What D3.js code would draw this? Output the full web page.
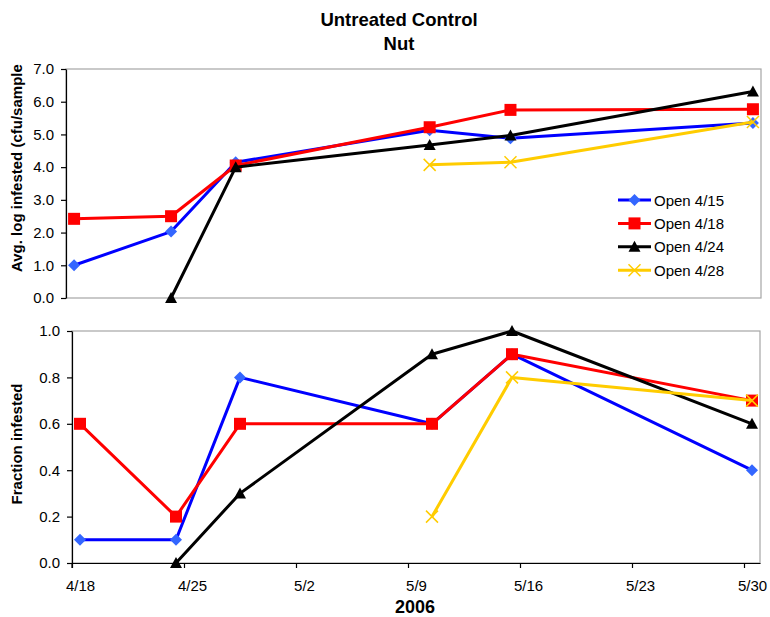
<!DOCTYPE html>
<html>
<head>
<meta charset="utf-8">
<script src="https://cdn.jsdelivr.net/npm/d3@7"></script>
<style>
  body { margin: 0; background: #fff; }
  svg { display: block; font-family: "Liberation Sans", Arial, sans-serif; }
</style>
</head>
<body>
<script>
// sample dates (2006) and series
const dates = ['2006-04-18', '2006-04-24', '2006-04-28', '2006-05-10', '2006-05-15', '2006-05-30'];
const seriesNames = ['Open 4/15', 'Open 4/18', 'Open 4/24', 'Open 4/28'];

// top panel: avg. log infested
const avgLog15 = [1.0, 2.03, 4.15, 5.13, 4.88, 5.35];
const avgLog18 = [2.42, 2.5, 4.05, 5.22, 5.75, 5.77];
const avgLog24 = [null, 0.0, 4.0, 4.68, 4.97, 6.31];
const avgLog28 = [null, null, null, 4.07, 4.15, 5.38];

// bottom panel: fraction infested
const frac15 = [0.1, 0.1, 0.8, 0.6, 0.9, 0.4];
const frac18 = [0.6, 0.2, 0.6, 0.6, 0.9, 0.7];
const frac24 = [null, 0.0, 0.3, 0.9, 1.0, 0.6];
const frac28 = [null, null, null, 0.2, 0.8, 0.7];

const xTickLabels = ['4/18', '4/25', '5/2', '5/9', '5/16', '5/23', '5/30'];
const avgTicks = [0, 1, 2, 3, 4, 5, 6, 7];
const fracTicks = [0, 0.2, 0.4, 0.6, 0.8, 1.0];

const colors = ['#0000ff', '#ff0000', '#000000', '#ffcc00'];
const fills = ['#3366ff', '#ff0000', '#000000', '#ffcc00'];
const shapes = ['diamond', 'square', 'triangle', 'cross'];

const W = 770, H = 617;
const parse = d3.utcParse('%Y-%m-%d');
const dayMs = 864e5;
const start = parse('2006-04-18');
const end = parse('2006-05-31');

const svg = d3.select('body').append('svg')
  .attr('width', W)
  .attr('height', H);

// titles
svg.append('text').attr('x', 399).attr('y', 26)
  .attr('text-anchor', 'middle').attr('font-weight', 'bold').attr('font-size', 18.5)
  .text('Untreated Control');
svg.append('text').attr('x', 399).attr('y', 50)
  .attr('text-anchor', 'middle').attr('font-weight', 'bold').attr('font-size', 18.5)
  .text('Nut');

function marker(g, shape, cx, cy, i) {
  if (shape === 'diamond') {
    g.append('path')
      .attr('d', `M${cx},${cy - 6}L${cx + 6},${cy}L${cx},${cy + 6}L${cx - 6},${cy}Z`)
      .attr('fill', fills[i]);
  } else if (shape === 'square') {
    g.append('rect')
      .attr('x', cx - 6).attr('y', cy - 6)
      .attr('width', 12).attr('height', 12)
      .attr('fill', fills[i]);
  } else if (shape === 'triangle') {
    g.append('path')
      .attr('d', `M${cx},${cy - 6}L${cx + 6},${cy + 5}L${cx - 6},${cy + 5}Z`)
      .attr('fill', fills[i]);
  } else {
    g.append('path')
      .attr('d', `M${cx - 6},${cy - 6}L${cx + 6},${cy + 6}M${cx - 6},${cy + 6}L${cx + 6},${cy - 6}`)
      .attr('stroke', fills[i]).attr('stroke-width', 1.5).attr('fill', 'none');
  }
}

function panel(opts) {
  const x = d3.scaleUtc().domain([start, end]).range([opts.left, opts.right]);
  const y = d3.scaleLinear().domain(opts.domain).range([opts.bottom, opts.top]);
  const halfDay = x(new Date(start.getTime() + dayMs / 2)) - x(start);

  // plot area border
  svg.append('rect')
    .attr('x', opts.left).attr('y', opts.top)
    .attr('width', opts.right - opts.left).attr('height', opts.bottom - opts.top)
    .attr('fill', 'none').attr('stroke', '#a6a6a6').attr('stroke-width', 1.2);

  // y axis
  const yAxis = svg.append('g')
    .attr('transform', `translate(${opts.left},0)`)
    .call(d3.axisLeft(y).tickValues(opts.ticks).tickFormat(d3.format('.1f'))
      .tickSizeInner(5).tickSizeOuter(0).tickPadding(7));
  yAxis.selectAll('text').attr('font-size', 15).attr('fill', '#000').style('font-family', 'inherit');
  yAxis.selectAll('line,path').attr('stroke', '#000').attr('stroke-width', 1.2);

  if (opts.xLabels) {
    const tickDates = opts.xLabels.map((d, i) => d3.utcDay.offset(start, 7 * i));
    const xAxis = svg.append('g')
      .attr('transform', `translate(0,${opts.bottom})`)
      .call(d3.axisBottom(x).tickValues(tickDates)
        .tickFormat((d, i) => opts.xLabels[i])
        .tickSizeInner(5).tickSizeOuter(0).tickPadding(12));
    xAxis.selectAll('text').attr('font-size', 15).attr('fill', '#000')
      .attr('dx', halfDay).style('font-family', 'inherit');
    xAxis.selectAll('line,path').attr('stroke', '#000').attr('stroke-width', 1.2);
    // y axis line runs past the x axis a little
    svg.append('line')
      .attr('x1', opts.left).attr('x2', opts.left)
      .attr('y1', opts.bottom).attr('y2', opts.bottom + 5)
      .attr('stroke', '#000').attr('stroke-width', 1.2);
  }

  // series
  const px = d => x(new Date(parse(d).getTime() + dayMs / 2));
  opts.series.forEach((vals, i) => {
    const pts = dates.map((d, j) => [d, vals[j]]).filter(p => p[1] !== null);
    const line = d3.line().x(p => px(p[0])).y(p => y(p[1]));
    svg.append('path')
      .datum(pts)
      .attr('d', line)
      .attr('fill', 'none')
      .attr('stroke', colors[i])
      .attr('stroke-width', 3)
      .attr('stroke-linejoin', 'round');
    const g = svg.append('g');
    pts.forEach(p => marker(g, shapes[i], px(p[0]), y(p[1]), i));
  });

  // axis title
  svg.append('text')
    .attr('transform', `translate(${opts.titleX},${opts.titleY}) rotate(-90)`)
    .attr('text-anchor', opts.titleAnchor)
    .attr('font-weight', 'bold').attr('font-size', 15)
    .text(opts.title);
}

panel({
  left: 66, right: 761, top: 69, bottom: 298,
  domain: [0, 7], ticks: avgTicks,
  series: [avgLog15, avgLog18, avgLog24, avgLog28],
  title: 'Avg. log infested (cfu/sample', titleX: 22, titleY: 272, titleAnchor: 'start'
});

panel({
  left: 72, right: 760, top: 331, bottom: 563,
  domain: [0, 1], ticks: fracTicks,
  series: [frac15, frac18, frac24, frac28],
  xLabels: xTickLabels,
  title: 'Fraction infested', titleX: 22, titleY: 444, titleAnchor: 'middle'
});

// x axis title
svg.append('text').attr('x', 415).attr('y', 613)
  .attr('text-anchor', 'middle').attr('font-weight', 'bold').attr('font-size', 18)
  .text('2006');

// legend
const legend = svg.append('g');
seriesNames.forEach((name, i) => {
  const cy = 200 + i * 23.4;
  legend.append('line')
    .attr('x1', 618).attr('x2', 651).attr('y1', cy).attr('y2', cy)
    .attr('stroke', colors[i]).attr('stroke-width', 3);
  marker(legend, shapes[i], 634.5, cy, i);
  legend.append('text')
    .attr('x', 654).attr('y', cy + 5.5)
    .attr('font-size', 15)
    .text(name);
});
</script>
</body>
</html>
